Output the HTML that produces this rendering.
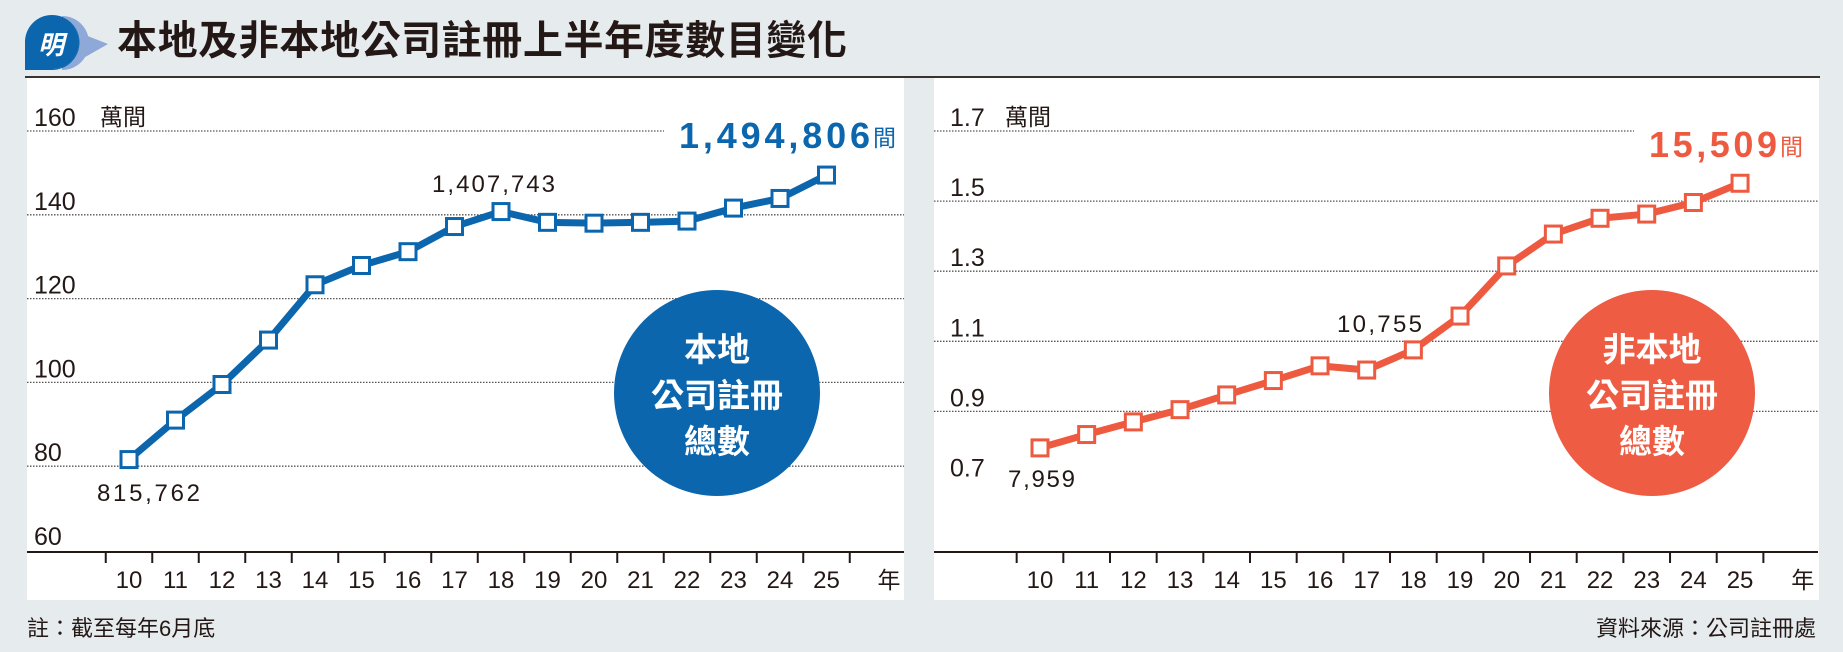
<!DOCTYPE html>
<html><head><meta charset="utf-8"><style>
html,body{margin:0;padding:0;background:#e6ebee;}
svg{display:block;font-family:"Liberation Sans","Noto Sans CJK TC",sans-serif;}
</style></head><body>
<svg id="chart" width="1843" height="652" viewBox="0 0 1843 652" xmlns="http://www.w3.org/2000/svg">
<rect x="0" y="0" width="1843" height="652" fill="#e6ebee"/>
<g>
<path d="M62,16 A27,27 0 1 1 62,70 L62,70 Z" fill="#8ea8d8"/>
<path d="M70,18 A27,27 0 0 1 80,60 L108,44 L80,33 A27,27 0 0 0 70,18Z" fill="#8ea8d8"/>
<path d="M52,15 A27,27 0 1 1 25,42 L25,70 L52,70 A27,27 0 0 0 52,15Z" fill="#0b66ad"/>
<path d="M25,42 A27,27 0 1 0 52,15 A27,27 0 0 0 25,42Z" fill="#0b66ad"/>
<rect x="25" y="42" width="27" height="28" fill="#0b66ad"/>
<text x="51" y="54" font-size="26" font-weight="bold" fill="#fff" text-anchor="middle" font-style="italic">明</text>
</g>
<text x="117" y="54" font-size="40" font-weight="bold" fill="#231815" textLength="730">本地及非本地公司註冊上半年度數目變化</text>
<line x1="25" y1="77" x2="1820" y2="77" stroke="#3a3330" stroke-width="2"/>
<rect x="27" y="78" width="877" height="522" fill="#fff"/>
<rect x="934" y="78" width="885" height="522" fill="#fff"/>
<g id="left"></g>
<g id="right"></g>
<text x="27" y="636" font-size="22" fill="#231815">註：截至每年6月底</text>
<text x="1816" y="636" font-size="22" fill="#231815" text-anchor="end">資料來源：公司註冊處</text>
</svg>
<script>
const years = ["10","11","12","13","14","15","16","17","18","19","20","21","22","23","24","25"];
const localValues = [81.58,91.0,99.5,110.1,123.3,127.9,131.2,137.2,140.77,138.2,138.0,138.2,138.5,141.6,143.9,149.48];
const overseasValues = [0.7959,0.834,0.870,0.905,0.947,0.988,1.030,1.018,1.0755,1.172,1.315,1.406,1.451,1.463,1.496,1.5509];
const localTicks = [60,80,100,120,140,160];
const overseasTicks = [0.7,0.9,1.1,1.3,1.5,1.7];
const localTickLabels = ["60","80","100","120","140","160"];
const overseasTickLabels = ["0.7","0.9","1.1","1.3","1.5","1.7"];

const NS="http://www.w3.org/2000/svg";
function mk(parent,tag,attrs,text){const e=document.createElementNS(NS,tag);for(const k in attrs)e.setAttribute(k,attrs[k]);if(text!==undefined)e.textContent=text;parent.appendChild(e);return e;}

function drawPanel(g,cfg){
  const yScale=v=>131+(cfg.vmax-v)*cfg.pxPer;
  const xScale=i=>cfg.x0+i*cfg.dx;
  // gridlines and labels
  cfg.ticks.forEach((t,i)=>{
    const y=yScale(t);
    if(i>0){
      const gl=mk(g,'line',{x1:cfg.gx1,x2:(i===cfg.ticks.length-1?cfg.topEnd:cfg.gx2),y1:y,y2:y,stroke:'#555','stroke-width':1.3,'stroke-dasharray':'1.5,1.5'});
      
      
    }
    const tl=mk(g,'text',{x:cfg.labelX,y:y-5,'font-size':25,fill:'#231815'},cfg.tickLabels[i]);
    
    
  });
  const unit=mk(g,'text',{x:cfg.unitX,y:yScale(cfg.vmax)-6,'font-size':23,fill:'#231815'},'萬間');
  
  
  // axis
  const ax=mk(g,'line',{x1:cfg.gx1,x2:cfg.gx2,y1:552,y2:552,stroke:'#231815','stroke-width':2});
  
  
  for(let i=0;i<=years.length;i++){
    const x=xScale(i)-cfg.dx/2;
    const tk=mk(g,'line',{x1:x,x2:x,y1:552,y2:563,stroke:'#231815','stroke-width':2});
    
    
  }
  years.forEach((yr,i)=>{
    const t=mk(g,'text',{x:xScale(i),y:588,'font-size':24,fill:'#231815','text-anchor':'middle'},yr);
    
    
  });
  const yl=mk(g,'text',{x:xScale(years.length)+16,y:588,'font-size':23,fill:'#231815','text-anchor':'middle'},'年');
  
  
  // circle badge
  const c=mk(g,'circle',{cx:cfg.cx,cy:393,r:103,fill:cfg.circle});
  
  
  cfg.badge.forEach((s,i)=>{
    const bt=mk(g,'text',{x:cfg.cx,y:361+i*46,'font-size':33,'font-weight':'bold',fill:'#fff','text-anchor':'middle'},s);
    
    
  });
  // line
  const pts=cfg.values.map((v,i)=>xScale(i)+','+yScale(v)).join(' ');
  const pl=mk(g,'polyline',{points:pts,fill:'none',stroke:cfg.color,'stroke-width':7,'stroke-linejoin':'round'});
  
  
  cfg.values.forEach((v,i)=>{
    const r=mk(g,'rect',{x:xScale(i)-8,y:yScale(v)-8,width:16,height:16,fill:'#fff',stroke:cfg.color,'stroke-width':3});
    
    
  });
  // annotations
  cfg.notes.forEach(n=>{
    const t=mk(g,'text',{x:n.x,y:n.y,'font-size':24,fill:'#231815',textLength:n.w},n.t);
    
    
  });
  const big=mk(g,'text',{x:cfg.big.x,y:cfg.big.y,'font-size':36,'font-weight':'bold',fill:cfg.color,textLength:cfg.big.w},cfg.big.t);
  
  
  const bu=mk(g,'text',{x:cfg.big.x+cfg.big.w+3,y:cfg.big.y-2,'font-size':23,fill:cfg.color},'間');
  
  
}

drawPanel(document.getElementById('left'),{
  vmax:160,pxPer:4.19,x0:129,dx:46.5,gx1:27,gx2:904,topEnd:664,labelX:34,unitX:100,
  ticks:localTicks,tickLabels:localTickLabels,values:localValues,color:'#0b66ad',circle:'#0b66ad',cx:717,
  badge:['本地','公司註冊','總數'],
  notes:[{x:432,y:192,t:'1,407,743',w:123},{x:97,y:501,t:'815,762',w:103}],
  big:{x:679,y:148,t:'1,494,806',w:191}
});
drawPanel(document.getElementById('right'),{
  vmax:1.7,pxPer:350.5,x0:1040,dx:46.67,gx1:934,gx2:1818,topEnd:1634,labelX:950,unitX:1005,
  ticks:overseasTicks,tickLabels:overseasTickLabels,values:overseasValues,color:'#ee5a40',circle:'#ee5c44',cx:1652,
  badge:['非本地','公司註冊','總數'],
  notes:[{x:1337,y:332,t:'10,755',w:85},{x:1008,y:487,t:'7,959',w:67}],
  big:{x:1649,y:157,t:'15,509',w:128}
});
</script>
</body></html>
